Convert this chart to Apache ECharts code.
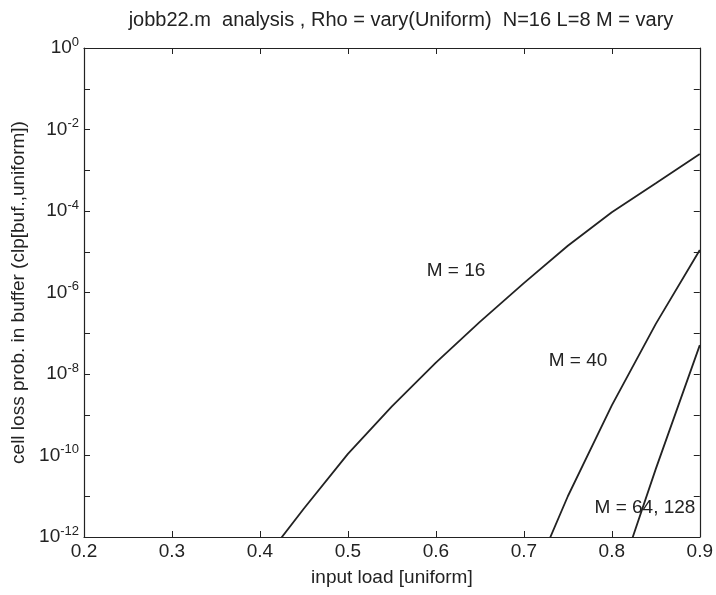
<!DOCTYPE html>
<html>
<head>
<meta charset="utf-8">
<script src="https://cdn.jsdelivr.net/npm/echarts@6/dist/echarts.min.js"></script>
<style>
  html, body { margin: 0; padding: 0; background: #fff; }
  #chart { width: 716px; height: 595px; }
</style>
</head>
<body>
<div id="chart"></div>
<script>
// values (log axis, points below 1e-12 get clipped)
var loadM16 = [0.4, 0.45, 0.5, 0.55, 0.6, 0.65, 0.7, 0.75, 0.8, 0.85, 0.9];
var clpM16 = [2.0e-13, 5.0e-12, 1.1e-10, 1.6e-9, 1.9e-8, 1.9e-7, 1.7e-6, 1.4e-5, 9.3e-5, 4.8e-4, 2.5e-3];

var loadM40 = [0.7, 0.75, 0.8, 0.85, 0.9];
var clpM40 = [3.0e-14, 1.0e-11, 1.7e-9, 1.7e-7, 1.1e-5];

var loadM64 = [0.8, 0.85, 0.9];
var clpM64 = [3.0e-14, 4.7e-11, 5.1e-8];

var FONT = 'Liberation Sans';
var INK = '#222';

function pairs(xs, ys) {
  var out = [];
  xs.forEach(function (x, i) { out.push([x, ys[i]]); });
  return out;
}

function lineSeries(name, xs, ys) {
  return {
    name: name,
    type: 'line',
    data: pairs(xs, ys),
    showSymbol: false,
    clip: true,
    lineStyle: { color: INK, width: 1.8 },
    silent: true,
    animation: false
  };
}

var chart = echarts.init(document.getElementById('chart'));

var option = {
  backgroundColor: '#fff',
  animation: false,
  title: {
    text: 'jobb22.m  analysis , Rho = vary(Uniform)  N=16 L=8 M = vary',
    left: 396,
    top: 5,
    textAlign: 'center',
    textStyle: { fontFamily: FONT, fontSize: 20, fontWeight: 'normal', color: INK }
  },
  grid: { left: 84, right: 12, top: 48, bottom: 58 },
  xAxis: [
    {
      type: 'value',
      min: 0.2,
      max: 0.9,
      interval: 0.1,
      name: 'input load [uniform]',
      nameLocation: 'middle',
      nameGap: 31,
      nameTextStyle: { fontFamily: FONT, fontSize: 19, color: INK },
      axisLine: { lineStyle: { color: INK, width: 1.2 } },
      axisTick: { inside: true, length: 6, lineStyle: { color: INK } },
      axisLabel: {
        margin: 5,
        fontFamily: FONT, fontSize: 19, color: INK,
        formatter: function (v) { return v.toFixed(1); }
      },
      splitLine: { show: false }
    },
    {
      type: 'value',
      position: 'top',
      min: 0.2,
      max: 0.9,
      interval: 0.1,
      axisLine: { lineStyle: { color: INK, width: 1.2 } },
      axisTick: { inside: true, length: 6, lineStyle: { color: INK } },
      axisLabel: { show: false },
      splitLine: { show: false }
    }
  ],
  yAxis: [
    {
      type: 'log',
      logBase: 10,
      min: 1e-12,
      max: 1,
      interval: 1,
      name: 'cell loss prob. in buffer (clp[buf.,uniform])',
      nameLocation: 'middle',
      nameGap: 48,
      nameRotate: 90,
      nameTextStyle: { fontFamily: FONT, fontSize: 19, color: INK },
      axisLine: { lineStyle: { color: INK, width: 1.2 } },
      axisTick: { inside: true, length: 6, lineStyle: { color: INK } },
      axisLabel: {
        margin: 5,
        formatter: function (v) {
          var e = Math.round(Math.log10(v));
          if (e % 2 !== 0) return '';
          return '{b|10}{s|' + e + '}';
        },
        rich: {
          b: { fontFamily: FONT, fontSize: 19, color: INK },
          s: { fontFamily: FONT, fontSize: 13, color: INK, padding: [0, 0, 12, 0] }
        }
      },
      splitLine: { show: false }
    },
    {
      type: 'log',
      logBase: 10,
      min: 1e-12,
      max: 1,
      interval: 1,
      position: 'right',
      axisLine: { lineStyle: { color: INK, width: 1.2 } },
      axisTick: { inside: true, length: 6, lineStyle: { color: INK } },
      axisLabel: { show: false },
      splitLine: { show: false }
    }
  ],
  series: [
    lineSeries('M = 16', loadM16, clpM16),
    lineSeries('M = 40', loadM40, clpM40),
    lineSeries('M = 64, 128', loadM64, clpM64)
  ],
  graphic: [
    { type: 'text', x: 456, y: 271, style: { text: 'M = 16', font: '19px ' + FONT, fill: INK, align: 'center', verticalAlign: 'middle' } },
    { type: 'text', x: 578, y: 361, style: { text: 'M = 40', font: '19px ' + FONT, fill: INK, align: 'center', verticalAlign: 'middle' } },
    { type: 'text', x: 645, y: 508, style: { text: 'M = 64, 128', font: '19px ' + FONT, fill: INK, align: 'center', verticalAlign: 'middle' } }
  ]
};

chart.setOption(option);
</script>
</body>
</html>
